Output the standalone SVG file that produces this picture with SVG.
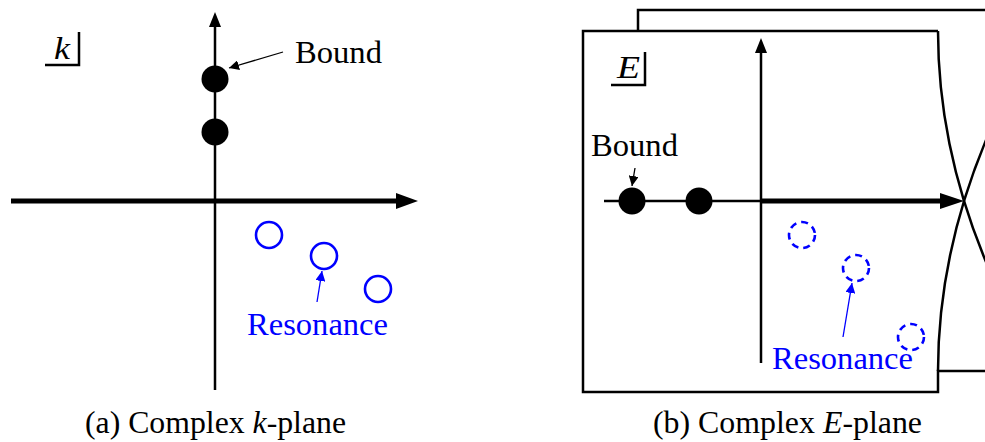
<svg xmlns="http://www.w3.org/2000/svg" width="985" height="442" viewBox="0 0 985 442">
<style>
text{font-family:"Liberation Serif","DejaVu Serif",serif;font-size:31px;fill:#000}
.blue{fill:#0000ff}
.it{font-style:italic}
.ax{stroke:#000;stroke-width:2.5;fill:none}
.thick{stroke:#000;stroke-width:5;fill:none}
.dot{fill:#000}
.res{fill:none;stroke:#0000ff;stroke-width:2.6}
.resd{fill:none;stroke:#0000ff;stroke-width:2.6;stroke-dasharray:7 5}
.frame{fill:none;stroke:#000;stroke-width:2.5}
</style>
<defs>
<marker id="ah" viewBox="0 0 10 10" refX="10" refY="5" markerWidth="10" markerHeight="10" markerUnits="userSpaceOnUse" orient="auto"><path d="M0,0 L10,5 L0,10 z" fill="#000"/></marker>
<marker id="ahb" viewBox="0 0 10 10" refX="10" refY="5" markerWidth="10" markerHeight="10" markerUnits="userSpaceOnUse" orient="auto"><path d="M0,0 L10,5 L0,10 z" fill="#0000ff"/></marker>
</defs>

<!-- Panel (a) -->
<g id="k-axes">
<line class="thick" x1="11" y1="201" x2="398" y2="201"/>
<path d="M396,193 L418,201 L396,209 z" fill="#000"/>
<line class="ax" x1="215" y1="390" x2="215" y2="24"/>
<path d="M209,27 L215,12 L221,27 z" fill="#000"/>
</g>
<g id="k-label">
<path class="frame" d="M45,65 H79 V32"/>
<text class="it" x="54" y="59" textLength="16" lengthAdjust="spacingAndGlyphs">k</text>
</g>
<g id="k-bound1"><circle class="dot" cx="215" cy="79" r="13.5"/></g>
<g id="k-bound2"><circle class="dot" cx="215" cy="132" r="13.5"/></g>
<g id="k-res1"><circle class="res" cx="269" cy="235" r="13"/></g>
<g id="k-res2"><circle class="res" cx="324" cy="256" r="13"/></g>
<g id="k-res3"><circle class="res" cx="378" cy="289" r="13"/></g>
<g id="k-bound-label"><text x="295" y="63" textLength="87" lengthAdjust="spacingAndGlyphs">Bound</text></g>
<g id="k-res-label"><text class="blue" x="247" y="335" textLength="141" lengthAdjust="spacingAndGlyphs">Resonance</text></g>
<g id="k-caption"><text x="85" y="433" textLength="261" lengthAdjust="spacingAndGlyphs">(a) Complex <tspan class="it">k</tspan>-plane</text></g>

<!-- Panel (b) -->
<g id="e-sheets">
<path class="frame" d="M638,31 V10 H990"/>
<path class="frame" d="M990,371 H938 V392 H583 V31 H938"/>
<path class="frame" d="M938,31 Q938,171 1008.6,311"/>
<path class="frame" d="M938,371 Q938,231 1008.6,91"/>
</g>
<g id="e-axes">
<line class="ax" x1="604" y1="201" x2="761" y2="201"/>
<line class="thick" x1="761" y1="201" x2="942" y2="201"/>
<path d="M940,193 L964,201 L940,209 z" fill="#000"/>
<line class="ax" x1="761" y1="363" x2="761" y2="50"/>
<path d="M755,53 L761,38 L767,53 z" fill="#000"/>
</g>
<g id="e-label">
<path class="frame" d="M611,85 H645 V52"/>
<text class="it" x="617" y="78" textLength="23" lengthAdjust="spacingAndGlyphs">E</text>
</g>
<g id="e-bound1"><circle class="dot" cx="632" cy="201" r="13.5"/></g>
<g id="e-bound2"><circle class="dot" cx="699" cy="201" r="13.5"/></g>
<g id="e-res1"><circle class="resd" cx="802" cy="235" r="13"/></g>
<g id="e-res2"><circle class="resd" cx="856" cy="268" r="13"/></g>
<g id="e-res3"><circle class="resd" cx="911" cy="337" r="13"/></g>
<g id="e-bound-label"><text x="591" y="156" textLength="87" lengthAdjust="spacingAndGlyphs">Bound</text></g>
<g id="e-res-label"><text class="blue" x="772" y="369" textLength="141" lengthAdjust="spacingAndGlyphs">Resonance</text></g>
<g id="e-caption"><text x="653" y="433" textLength="269" lengthAdjust="spacingAndGlyphs">(b) Complex <tspan class="it">E</tspan>-plane</text></g>

<g id="connectors">
<line x1="283" y1="52" x2="229" y2="68" stroke="#000" stroke-width="1.3" marker-end="url(#ah)"/>
<line x1="317" y1="302" x2="322" y2="271" stroke="#0000ff" stroke-width="1.3" marker-end="url(#ahb)"/>
<line x1="635" y1="168" x2="632" y2="186" stroke="#000" stroke-width="1.3" marker-end="url(#ah)"/>
<line x1="843" y1="337" x2="852" y2="283" stroke="#0000ff" stroke-width="1.3" marker-end="url(#ahb)"/>
</g>
</svg>
